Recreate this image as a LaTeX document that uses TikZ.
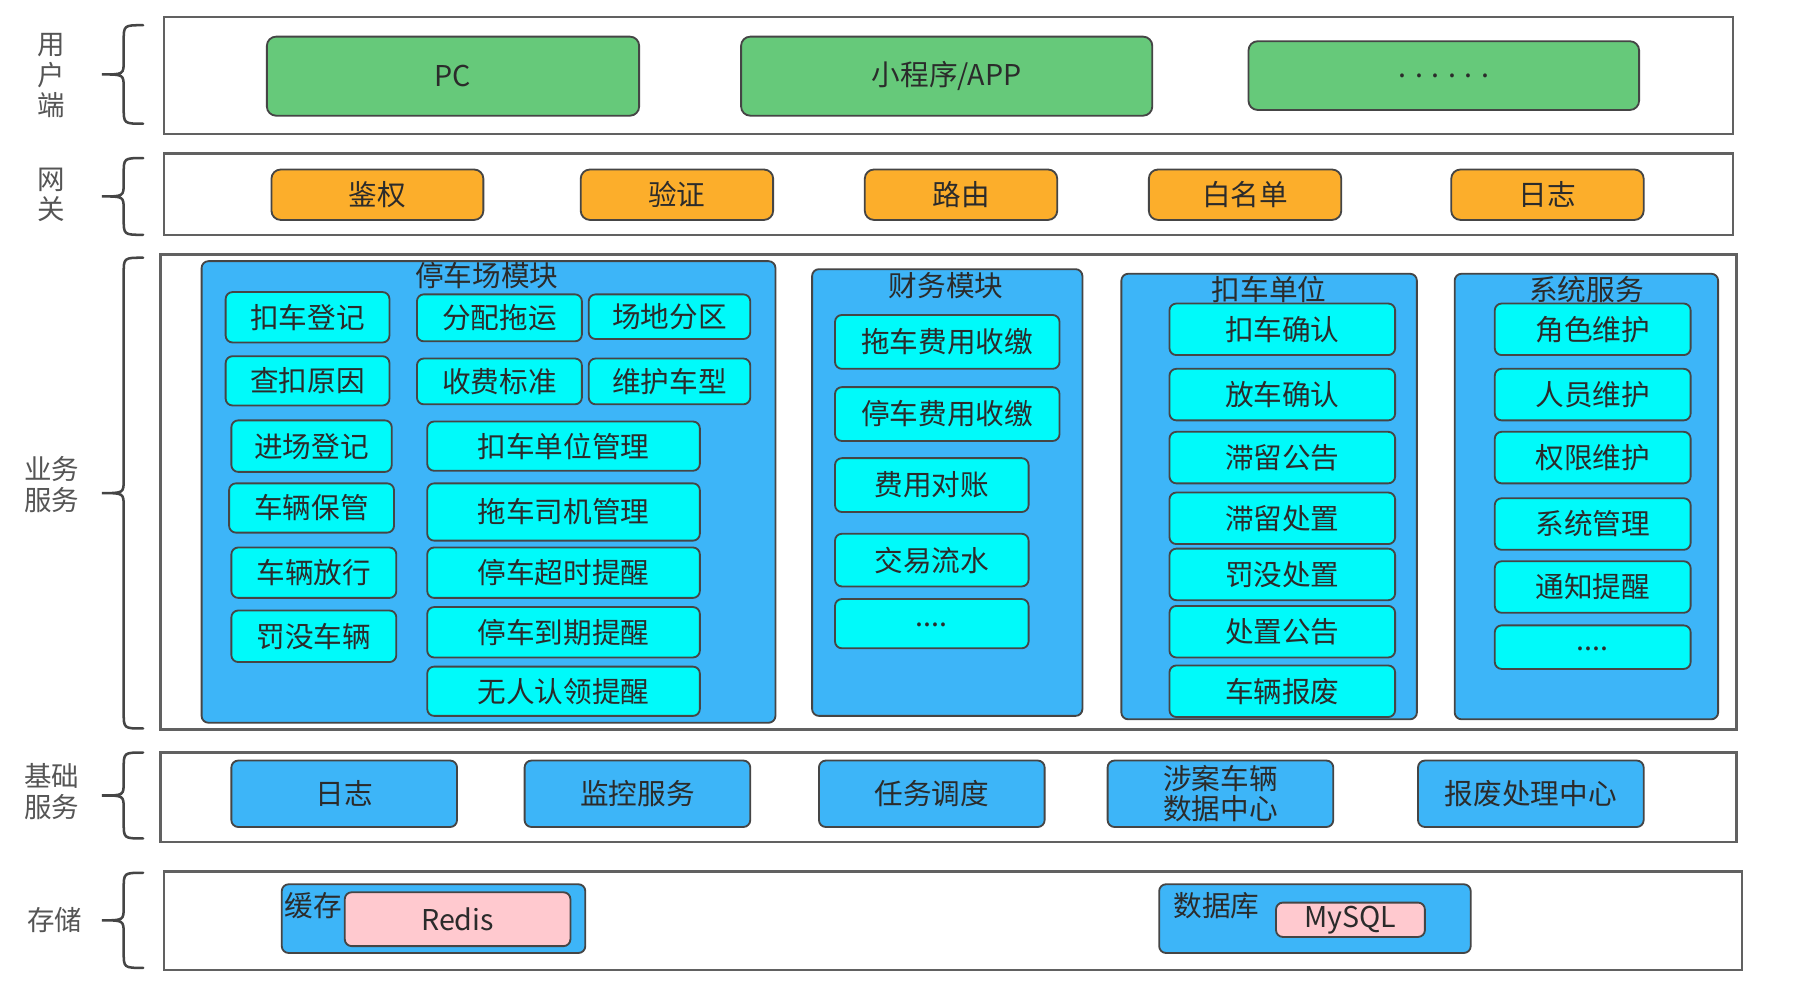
\documentclass[tikz,border=0pt]{standalone}
\usepackage{fontspec}
\setmainfont{Noto Sans CJK SC}
\definecolor{gfill}{HTML}{66C97A}
\definecolor{ofill}{HTML}{FCAE2B}
\definecolor{bfill}{HTML}{3DB5F8}
\definecolor{cfill}{HTML}{00FAFA}
\definecolor{pfill}{HTML}{FFC9CF}
\definecolor{edgec}{HTML}{454545}
\definecolor{txt}{HTML}{2B2B2B}
\definecolor{lbl}{HTML}{555555}
\newcommand\rbox[7]{\node[#1, minimum width={(#4-#2)*0.5pt}, minimum height={(#5-#3)*0.5pt}] (#6) at ({(#2+#4)/2},{(#3+#5)/2}) {#7};}
\newcommand\layerbrace[2]{\draw[bracestyle] (125,#1) .. controls (108,#1) .. (108,{#1+14}) -- (108,{(#1+#2)/2-12}) .. controls (108,{(#1+#2)/2}) .. (89,{(#1+#2)/2}) .. controls (108,{(#1+#2)/2}) .. (108,{(#1+#2)/2+12}) -- (108,{#2-14}) .. controls (108,#2) .. (125,#2);}
\newcommand\lowdots{\raisebox{-3pt}{....}}
\begin{document}
\begin{tikzpicture}[x=0.5pt,y=-0.5pt,
  every node/.style={font=\fontsize{12.5}{13}\selectfont, text=txt, inner sep=0pt},
  layer/.style={draw=edgec!85, line width=1.1pt, fill=white},
  basebox/.style={draw=edgec, line width=0.8pt, rounded corners=4pt},
  gbox/.style={basebox, fill=gfill},
  obox/.style={basebox, fill=ofill},
  bbox/.style={basebox, fill=bfill, rounded corners=3pt},
  cbox/.style={basebox, fill=cfill, rounded corners=3pt},
  pbox/.style={basebox, fill=pfill, rounded corners=3pt},
  sidelabel/.style={text=lbl, align=center, font=\fontsize{12}{13.2}\selectfont},
  bracestyle/.style={draw=edgec, line width=1.1pt, line cap=round}]
\useasboundingbox (0,0) rectangle (1568,861);
\fill[white] (0,0) rectangle (1568,861);

% side labels
\node[sidelabel] (l1) at (45,66) {用\\户\\端};
\node[sidelabel] (l2) at (45,170) {网\\关};
\node[sidelabel] (l3) at (45,423) {业务\\服务};
\node[sidelabel] (l4) at (45,691) {基础\\服务};
\node[sidelabel] (l5) at (48,803) {存储};

% braces
\layerbrace{22}{108}
\layerbrace{138}{205}
\layerbrace{225}{636}
\layerbrace{657}{732}
\layerbrace{762}{845}

% layer frames
\rbox{layer}{143}{15}{1513}{117}{L1}{}
\rbox{layer}{143}{134}{1513}{205}{L2}{}
\rbox{layer}{140}{222}{1516}{637}{L3}{}
\rbox{layer}{140}{657}{1516}{735}{L4}{}
\rbox{layer}{143}{761}{1521}{847}{L5}{}

% user side
\rbox{gbox}{233}{32}{558}{101}{pc}{PC}
\rbox{gbox}{647}{32}{1006}{101}{app}{小程序/APP}
\rbox{gbox}{1090}{36}{1431}{96}{more}{. . . . . .}

% gateway
\rbox{obox}{237}{148}{422}{192}{g1}{鉴权}
\rbox{obox}{507}{148}{675}{192}{g2}{验证}
\rbox{obox}{755}{148}{923}{192}{g3}{路由}
\rbox{obox}{1003}{148}{1171}{192}{g4}{白名单}
\rbox{obox}{1267}{148}{1435}{192}{g5}{日志}

% business modules
\rbox{bbox}{176}{228}{677}{631}{m1}{}
\node (m1t) at (425,241) {停车场模块};
\rbox{cbox}{197}{255}{340}{299}{a1}{扣车登记}
\rbox{cbox}{364}{257}{508}{298}{a2}{分配拖运}
\rbox{cbox}{514}{257}{655}{296}{a3}{场地分区}
\rbox{cbox}{197}{311}{340}{354}{a4}{查扣原因}
\rbox{cbox}{364}{313}{508}{353}{a5}{收费标准}
\rbox{cbox}{514}{313}{655}{353}{a6}{维护车型}
\rbox{cbox}{202}{367}{342}{412}{a7}{进场登记}
\rbox{cbox}{373}{368}{611}{411}{a8}{扣车单位管理}
\rbox{cbox}{200}{422}{344}{465}{a9}{车辆保管}
\rbox{cbox}{373}{422}{611}{472}{a10}{拖车司机管理}
\rbox{cbox}{202}{478}{346}{522}{a11}{车辆放行}
\rbox{cbox}{373}{478}{611}{522}{a12}{停车超时提醒}
\rbox{cbox}{202}{533}{346}{578}{a13}{罚没车辆}
\rbox{cbox}{373}{530}{611}{574}{a14}{停车到期提醒}
\rbox{cbox}{373}{582}{611}{625}{a15}{无人认领提醒}

\rbox{bbox}{709}{235}{945}{625}{m2}{}
\node (m2t) at (826,249) {财务模块};
\rbox{cbox}{729}{275}{925}{322}{b1}{拖车费用收缴}
\rbox{cbox}{729}{338}{925}{385}{b2}{停车费用收缴}
\rbox{cbox}{729}{400}{898}{447}{b3}{费用对账}
\rbox{cbox}{729}{466}{898}{512}{b4}{交易流水}
\rbox{cbox}{729}{523}{898}{566}{b5}{\lowdots}

\rbox{bbox}{979}{239}{1237}{628}{m3}{}
\node (m3t) at (1108,253) {扣车单位};
\rbox{cbox}{1021}{265}{1218}{310}{c1}{扣车确认}
\rbox{cbox}{1021}{322}{1218}{367}{c2}{放车确认}
\rbox{cbox}{1021}{377}{1218}{422}{c3}{滞留公告}
\rbox{cbox}{1021}{430}{1218}{475}{c4}{滞留处置}
\rbox{cbox}{1021}{479}{1218}{524}{c5}{罚没处置}
\rbox{cbox}{1021}{529}{1218}{574}{c6}{处置公告}
\rbox{cbox}{1021}{581}{1218}{626}{c7}{车辆报废}

\rbox{bbox}{1270}{239}{1500}{628}{m4}{}
\node (m4t) at (1385,253) {系统服务};
\rbox{cbox}{1305}{265}{1476}{310}{d1}{角色维护}
\rbox{cbox}{1305}{322}{1476}{367}{d2}{人员维护}
\rbox{cbox}{1305}{377}{1476}{422}{d3}{权限维护}
\rbox{cbox}{1305}{435}{1476}{480}{d4}{系统管理}
\rbox{cbox}{1305}{490}{1476}{535}{d5}{通知提醒}
\rbox{cbox}{1305}{546}{1476}{584}{d6}{\lowdots}

% base services
\rbox{bbox}{202}{664}{399}{722}{e1}{日志}
\rbox{bbox}{458}{664}{655}{722}{e2}{监控服务}
\rbox{bbox}{715}{664}{912}{722}{e3}{任务调度}
\node[bbox, align=center, minimum width={197*0.5pt}, minimum height={58*0.5pt}] (e4) at (1065.5,693) {涉案车辆\\数据中心};
\rbox{bbox}{1238}{664}{1435}{722}{e5}{报废处理中心}

% storage
\rbox{bbox}{246}{772}{511}{832}{s1}{}
\node[anchor=west] (s1t) at (248,791) {缓存};
\rbox{pbox}{301}{779}{498}{826}{redis}{Redis}
\rbox{bbox}{1012}{772}{1284}{832}{s2}{}
\node[anchor=west] (s2t) at (1024,791) {数据库};
\rbox{pbox}{1114}{788}{1244}{818}{mysql}{MySQL}
\end{tikzpicture}
\end{document}
